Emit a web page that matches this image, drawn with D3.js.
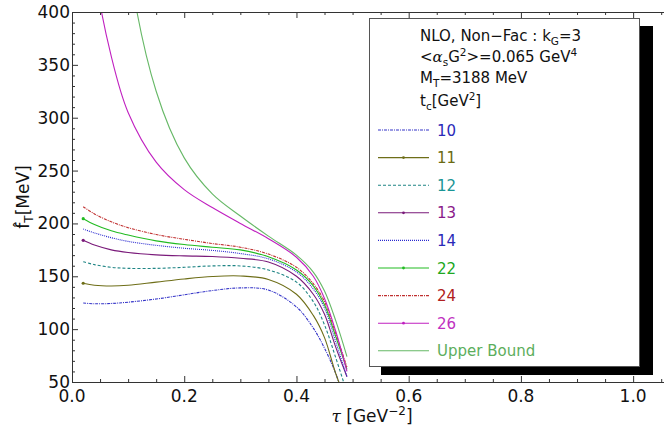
<!DOCTYPE html>
<html><head><meta charset="utf-8">
<script src="https://cdn.jsdelivr.net/npm/d3@7"></script>
<style>body{margin:0;background:#fff}svg{display:block}text{font-family:"DejaVu Sans",sans-serif}</style>
</head><body>
<svg id="c" width="664" height="439"></svg>
<script>
// ---- data ----
const tau = [0.02,0.04,0.07,0.10,0.15,0.20,0.25,0.30,0.35,0.40,0.43,0.45,0.47,0.49];
const tc10 = [124.7,124.0,124.3,125.5,128.5,132.5,136.5,139.0,137.0,121.0,101.0,82.0,58.0,25.0];
const tc11 = [143.4,141.5,140.8,141.5,144.5,147.5,149.8,150.3,147.0,133.0,113.0,92.0,58.0,30.0];
const tc12 = [163.8,161.0,158.5,157.5,157.5,158.5,159.8,159.8,156.0,144.5,126.0,104.0,73.0,40.0];
const tc13 = [184.0,179.5,175.0,172.5,170.3,169.3,168.7,167.0,163.5,150.0,133.0,114.0,83.0,55.0];
const tc14 = [194.7,191.0,186.5,183.0,179.3,176.5,174.5,171.5,166.5,154.0,138.0,120.0,88.0,55.0];
const tc22 = [204.5,199.0,193.0,189.0,183.5,180.0,177.5,175.0,168.5,156.0,141.0,123.0,93.0,62.0];
const tc24 = [215.8,209.0,201.5,196.0,189.5,185.0,181.0,177.5,171.0,158.5,143.0,126.0,96.0,64.0];
const tc26 = [560.0,440.0,358.0,305.0,258.0,232.0,215.0,200.0,185.5,168.0,150.0,129.0,98.0,60.0];
const upperBound = [1500.0,980.0,640.0,450.0,325.0,262.0,228.0,207.0,188.0,170.0,154.0,136.0,108.0,74.0];
const seriesLabels = ["10","11","12","13","14","22","24","26","Upper Bound"];
const seriesValues = [tc10,tc11,tc12,tc13,tc14,tc22,tc24,tc26,upperBound];
const xTickLabels = ["0.0","0.2","0.4","0.6","0.8","1.0"];
const yTickLabels = ["50","100","150","200","250","300","350","400"];

// ---- styles ----
const styles = [
  {c:"#3535c8", t:"#2a2ab8", dash:"3,1,1,1", mk:false},
  {c:"#6e6e18", t:"#6b6b12", dash:null, mk:true},
  {c:"#1f8585", t:"#1a9595", dash:"3,2", mk:false},
  {c:"#7a1a7a", t:"#8a1a8a", dash:null, mk:true},
  {c:"#2a2ad0", t:"#2a2ab8", dash:"1,1", mk:false},
  {c:"#22bb22", t:"#20a820", dash:null, mk:true},
  {c:"#c03030", t:"#b02020", dash:"3,1,1,1", mk:false},
  {c:"#c020c0", t:"#c030c0", dash:null, mk:true},
  {c:"#66b866", t:"#5cae5c", dash:null, mk:false}
];

const svg = d3.select("#c");
const x = d3.scaleLinear().domain([0,1.055]).range([72,664]);
const y = d3.scaleLinear().domain([50,400]).range([382,12]);
const axisColor = "#333";

svg.append("clipPath").attr("id","clip").append("rect")
  .attr("x",72).attr("y",12).attr("width",592).attr("height",370);

// curves
const line = d3.line().x(d=>x(d[0])).y(d=>y(d[1])).curve(d3.curveCatmullRom.alpha(0.5));
const g = svg.append("g").attr("clip-path","url(#clip)");
seriesValues.forEach((vals,i)=>{
  const pts = tau.map((t,k)=>[t,vals[k]]);
  const s = styles[i];
  g.append("path").attr("d",line(pts)).attr("fill","none")
    .attr("stroke",s.c).attr("stroke-width",1.1)
    .attr("stroke-dasharray",s.dash);
  if(s.mk){
    g.append("circle").attr("cx",x(pts[0][0])).attr("cy",y(pts[0][1])).attr("r",1.6).attr("fill",s.c);
  }
});

// axes
function addAxis(axis, transform){
  const a = svg.append("g").attr("transform",transform).call(axis);
  a.select(".domain").attr("stroke",axisColor);
  a.selectAll(".tick line").attr("stroke",axisColor);
  a.selectAll("text").remove();
  return a;
}
const xMajor = xTickLabels.map(Number);
const xMinor = d3.range(0,1.051,0.05).filter(v=>!xMajor.some(m=>Math.abs(m-v)<1e-6));
const yMajor = yTickLabels.map(Number);
const yMinor = d3.range(50,401,10).filter(v=>v%50!==0);

addAxis(d3.axisBottom(x).tickValues(xMajor).tickSizeInner(-6).tickSizeOuter(0),"translate(0,382)");
addAxis(d3.axisBottom(x).tickValues(xMinor).tickSizeInner(-3).tickSizeOuter(0),"translate(0,382)");
addAxis(d3.axisTop(x).tickValues(xMajor).tickSizeInner(-6).tickSizeOuter(0),"translate(0,12)");
addAxis(d3.axisTop(x).tickValues(xMinor).tickSizeInner(-3).tickSizeOuter(0),"translate(0,12)");
addAxis(d3.axisLeft(y).tickValues(yMajor).tickSizeInner(-6).tickSizeOuter(0),"translate(72,0)");
addAxis(d3.axisLeft(y).tickValues(yMinor).tickSizeInner(-3).tickSizeOuter(0),"translate(72,0)");

// tick labels
svg.append("g").selectAll("text").data(xTickLabels).join("text")
  .attr("x",d=>x(+d)).attr("y",402).attr("text-anchor","middle")
  .attr("font-size",17).attr("fill","#111").text(d=>d);
svg.append("g").selectAll("text").data(yTickLabels).join("text")
  .attr("x",70).attr("y",d=>y(+d)+6).attr("text-anchor","end")
  .attr("font-size",17).attr("fill","#111").text(d=>d);

// axis titles
const xt = svg.append("text").attr("x",372).attr("y",422).attr("text-anchor","middle")
  .attr("font-size",17).attr("fill","#111");
xt.append("tspan").attr("font-style","italic").attr("font-family","DejaVu Serif").text("τ");
xt.append("tspan").text(" [GeV");
xt.append("tspan").attr("dy",-7).attr("font-size",12).text("−2");
xt.append("tspan").attr("dy",7).text("]");

const yt = svg.append("text").attr("transform","translate(29,197) rotate(-90)")
  .attr("text-anchor","middle").attr("font-size",17).attr("fill","#111");
yt.append("tspan").text("f\u0302");
yt.append("tspan").attr("dy",4).attr("font-size",12).text("T");
yt.append("tspan").attr("dy",-4).text("[MeV]");

// legend
svg.append("rect").attr("x",381).attr("y",26).attr("width",272).attr("height",349).attr("fill","#000");
svg.append("rect").attr("x",369.5).attr("y",18.5).attr("width",270).attr("height",348)
  .attr("fill","#fff").attr("stroke","#555").attr("stroke-width",1);

const fs = 15;
function row(yc){ return svg.append("text").attr("x",420).attr("y",yc+5.5).attr("font-size",fs).attr("fill","#111"); }
let t1 = row(35);
t1.append("tspan").text("NLO, Non−Fac : k");
t1.append("tspan").attr("dy",4).attr("font-size",10.5).text("G");
t1.append("tspan").attr("dy",-4).text("=3");
let t2 = row(56);
t2.append("tspan").text("<");
t2.append("tspan").attr("font-style","italic").attr("font-family","DejaVu Serif").text("α");
t2.append("tspan").attr("dy",4).attr("font-size",10.5).text("s");
t2.append("tspan").attr("dy",-4).text("G");
t2.append("tspan").attr("dy",-6).attr("font-size",10.5).text("2");
t2.append("tspan").attr("dy",6).text(">=0.065 GeV");
t2.append("tspan").attr("dy",-6).attr("font-size",10.5).text("4");
let t3 = row(77);
t3.append("tspan").text("M");
t3.append("tspan").attr("dy",4).attr("font-size",10.5).text("T");
t3.append("tspan").attr("dy",-4).text("=3188 MeV");
let t4 = row(100);
t4.append("tspan").text("t");
t4.append("tspan").attr("dy",4).attr("font-size",10.5).text("c");
t4.append("tspan").attr("dy",-4).text("[GeV");
t4.append("tspan").attr("dy",-6).attr("font-size",10.5).text("2");
t4.append("tspan").attr("dy",6).text("]");

seriesLabels.forEach((lab,i)=>{
  const yc = 130 + i*27.6;
  const s = styles[i];
  svg.append("line").attr("x1",378).attr("x2",429).attr("y1",yc).attr("y2",yc)
    .attr("stroke",s.c).attr("stroke-width",1.1).attr("stroke-dasharray",s.dash);
  if(s.mk) svg.append("circle").attr("cx",403.5).attr("cy",yc).attr("r",1.4).attr("fill",s.c);
  svg.append("text").attr("x",437).attr("y",yc+5.5).attr("font-size",fs).attr("fill",s.t).text(lab);
});
</script>
</body></html>
